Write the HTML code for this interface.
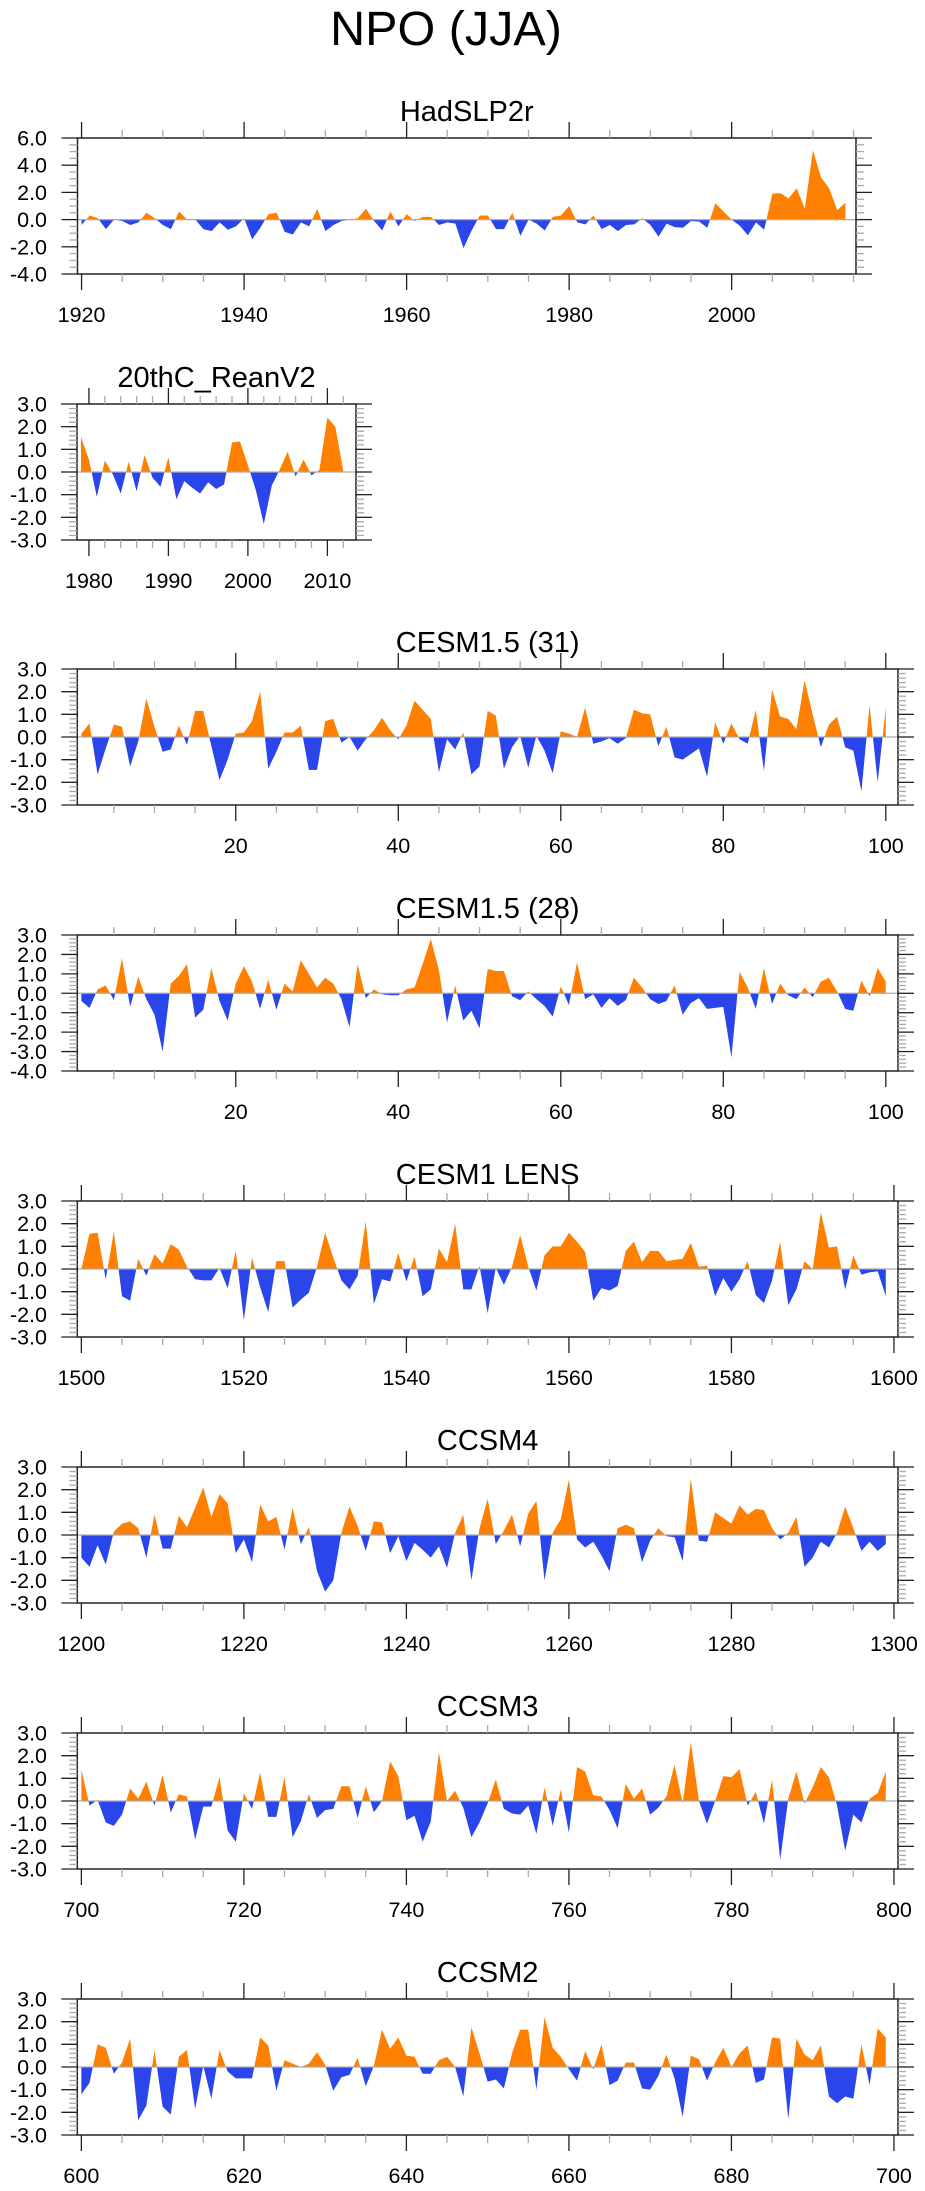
<!DOCTYPE html>
<html><head><meta charset="utf-8">
<style>
html,body{margin:0;padding:0;background:#fff;}
svg{display:block;font-family:"Liberation Sans",Arial,sans-serif;}
</style></head>
<body>
<svg id="chart" width="925" height="2191" viewBox="0 0 925 2191" xmlns="http://www.w3.org/2000/svg">
<text x="446" y="45" font-size="48.5" text-anchor="middle" fill="#000">NPO (JJA)</text>
</svg>
<script>
const hadslpStart = 1920;
const hadslpValues = [-0.4,0.3,0.1,-0.7,0,-0.1,-0.4,-0.2,0.5,0.1,-0.4,-0.7,0.6,0,0,-0.7,-0.85,-0.2,-0.75,-0.5,0.1,-1.45,-0.6,0.4,0.5,-0.9,-1.1,-0.2,-0.5,0.8,-0.85,-0.4,-0.1,0,0.1,0.8,-0.1,-0.8,0.6,-0.5,0.4,-0.1,0.2,0.2,-0.4,-0.2,-0.3,-2.1,-0.8,0.3,0.3,-0.7,-0.7,0.5,-1.2,0,-0.3,-0.8,0.2,0.3,1.0,-0.2,-0.35,0.3,-0.7,-0.4,-0.85,-0.4,-0.35,0.1,-0.4,-1.25,-0.3,-0.55,-0.6,-0.1,-0.15,-0.6,1.2,0.6,0,-0.45,-1.15,-0.2,-0.75,1.9,1.95,1.55,2.3,0.8,5.1,3.1,2.3,0.7,1.25];
const reanStart = 1979;
const reanValues = [1.55,0.55,-1.1,0.5,-0.1,-0.95,0.45,-0.85,0.75,-0.25,-0.65,0.65,-1.2,-0.4,-0.7,-0.95,-0.45,-0.75,-0.55,1.3,1.35,0.3,-0.8,-2.3,-0.6,0.1,0.9,-0.2,0.55,-0.15,0.1,2.4,2.0,0.05];
const cesm31Start = 1;
const cesm31Values = [0.15,0.6,-1.65,-0.5,0.55,0.45,-1.3,-0.2,1.7,0.45,-0.65,-0.55,0.5,-0.35,1.15,1.15,-0.4,-1.9,-1.0,0.15,0.2,0.7,2.0,-1.4,-0.65,0.2,0.2,0.5,-1.45,-1.45,0.7,0.8,-0.25,0.0,-0.6,-0.1,0.3,0.85,0.3,-0.1,0.5,1.6,1.2,0.8,-1.55,-0.1,-0.55,0.2,-1.65,-1.3,1.15,0.95,-1.4,-0.45,0.05,-1.35,0.05,-0.6,-1.6,0.25,0.15,0.0,1.3,-0.3,-0.2,-0.05,-0.3,-0.05,1.2,1.05,1.0,-0.4,0.45,-0.9,-1.0,-0.75,-0.5,-1.75,0.65,-0.3,0.6,-0.1,-0.3,1.2,-1.5,2.1,0.9,0.8,0.35,2.5,1.0,-0.45,0.55,0.9,-0.45,-0.6,-2.4,1.4,-2.0,1.3];
const cesm28Start = 1;
const cesm28Values = [-0.4,-0.75,0.2,0.4,-0.35,1.8,-0.7,0.85,-0.3,-1.1,-3.0,0.5,0.9,1.5,-1.25,-0.85,1.3,-0.4,-1.4,0.5,1.4,0.6,-0.8,0.7,-0.85,0.5,0.1,1.7,1.0,0.3,0.8,0.5,-0.3,-1.75,1.5,-0.25,0.2,-0.05,-0.1,-0.1,0.2,0.3,1.5,2.8,1.2,-1.5,0.4,-1.4,-0.9,-1.8,1.25,1.15,1.15,-0.15,-0.35,0.1,-0.3,-0.65,-1.2,0.35,-0.6,1.6,-0.3,-0.05,-0.75,-0.25,-0.65,-0.35,0.8,0.3,-0.3,-0.55,-0.4,0.4,-1.1,-0.5,-0.25,-0.8,-0.75,-0.7,-3.3,1.1,0.3,-0.8,1.3,-0.55,0.5,-0.1,-0.3,0.3,-0.2,0.6,0.8,0.1,-0.8,-0.9,0.65,-0.15,1.3,0.6];
const lensStart = 1500;
const lensValues = [0.0,1.55,1.6,-0.45,1.65,-1.2,-1.4,0.45,-0.3,0.65,0.25,1.1,0.85,0.1,-0.45,-0.5,-0.5,0.05,-0.85,0.8,-2.25,0.5,-0.8,-1.9,0.35,0.35,-1.7,-1.35,-1.05,0.1,1.6,0.5,-0.5,-0.9,-0.3,2.1,-1.55,-0.45,-0.55,0.7,-0.55,0.55,-1.2,-0.9,0.9,0.3,2.0,-0.9,-0.9,0.15,-1.95,0.05,-0.7,0.1,1.5,0.1,-0.95,0.6,1.0,1.0,1.6,1.2,0.75,-1.4,-0.85,-0.95,-0.75,0.8,1.2,0.3,0.8,0.8,0.35,0.4,0.45,1.15,0.1,0.15,-1.2,-0.4,-1.0,-0.45,0.35,-1.15,-1.5,-0.5,1.2,-1.6,-0.9,0.35,0.0,2.5,0.95,1.0,-0.9,0.6,-0.25,-0.15,-0.1,-1.2];
const ccsm4Start = 1200;
const ccsm4Values = [-1.0,-1.4,-0.45,-1.3,0.15,0.5,0.6,0.3,-1.0,0.9,-0.6,-0.6,0.85,0.35,1.2,2.1,0.8,1.8,1.4,-0.8,-0.2,-1.2,1.35,0.6,0.8,-0.65,1.2,-0.4,0.35,-1.6,-2.5,-2.0,0.1,1.25,0.4,-0.7,0.6,0.55,-0.8,-0.05,-1.15,-0.35,-0.65,-1.0,-0.5,-1.45,0.1,0.9,-2.0,0.3,1.6,-0.4,0.2,0.9,-0.5,0.95,1.5,-2.0,0.1,0.7,2.45,-0.2,-0.55,-0.3,-0.9,-1.6,0.3,0.45,0.3,-1.2,-0.25,0.3,-0.05,-0.1,-1.15,2.5,-0.25,-0.3,1.0,0.75,0.5,1.3,0.9,1.15,1.1,0.3,-0.2,0.1,0.8,-1.4,-1.0,-0.3,-0.55,0.1,1.25,0.3,-0.7,-0.3,-0.7,-0.4];
const ccsm3Start = 700;
const ccsm3Values = [1.4,-0.2,0.05,-0.95,-1.1,-0.6,0.55,0.1,0.85,-0.2,1.15,-0.5,0.3,0.2,-1.7,-0.25,-0.25,1.05,-1.3,-1.8,0.35,-0.35,1.25,-0.7,-0.7,1.05,-1.6,-0.9,0.3,-0.75,-0.4,-0.35,0.65,0.65,-0.75,0.65,-0.5,0.0,1.75,1.1,-0.85,-0.65,-1.8,-0.9,2.15,0.0,0.45,-0.3,-1.6,-0.95,-0.1,0.95,-0.35,-0.55,-0.6,-0.2,-1.45,0.6,-1.1,0.5,-1.4,1.5,1.3,0.25,0.2,-0.4,-1.2,0.75,0.1,0.55,-0.6,-0.3,0.2,1.6,-0.1,2.6,0.0,-1.0,0.0,1.1,1.05,1.4,-0.2,0.4,-1.0,0.95,-2.6,0.1,1.3,-0.1,0.6,1.5,1.05,-0.2,-2.2,-0.6,-0.95,0.1,0.35,1.3];
const ccsm2Start = 600;
const ccsm2Values = [-1.2,-0.7,1.0,0.85,-0.3,0.2,1.25,-2.35,-1.7,0.75,-1.75,-2.1,0.45,0.75,-1.85,0.05,-1.4,0.75,-0.2,-0.5,-0.5,-0.5,1.3,0.95,-1.05,0.3,0.15,0.0,0.15,0.65,0.1,-1.05,-0.45,-0.35,0.4,-0.85,0.05,1.65,0.8,1.3,0.5,0.45,-0.3,-0.3,0.3,0.45,0.0,-1.3,1.75,0.6,-0.65,-0.55,-0.95,0.6,1.65,1.65,-1.0,2.2,0.85,0.45,-0.1,-0.6,0.7,-0.1,1.0,-0.8,-0.6,0.2,0.2,-0.95,-1.0,-0.4,0.55,-0.5,-2.2,0.5,0.35,-0.6,0.2,0.85,0.0,0.6,0.95,-0.7,-0.55,1.3,1.25,-2.3,1.25,0.55,0.3,0.95,-1.3,-1.6,-1.3,-1.4,1.0,-0.8,1.7,1.3];
const panelTitles = ["HadSLP2r","20thC_ReanV2","CESM1.5 (31)","CESM1.5 (28)","CESM1 LENS","CCSM4","CCSM3","CCSM2"];
const hadslpXTicks = [1920,1940,1960,1980,2000];
const reanXTicks = [1980,1990,2000,2010];
const modelXTicks3 = [20,40,60,80,100];
const lensXTicks = [1500,1520,1540,1560,1580,1600];
const ccsm4XTicks = [1200,1220,1240,1260,1280,1300];
const ccsm3XTicks = [700,720,740,760,780,800];
const ccsm2XTicks = [600,620,640,660,680,700];

const NS = "http://www.w3.org/2000/svg";
const svg = document.getElementById('chart');
function mk(tag, attrs, parent){
  const e = document.createElementNS(NS, tag);
  for (const k in attrs) e.setAttribute(k, attrs[k]);
  (parent||svg).appendChild(e);
  return e;
}
const R = 898;
const panels = [
 {slug:'hadslp2r', start:hadslpStart, vals:hadslpValues, x0:77.5, x1:856, top:138, xmin:1919.5, xmax:2015.3, ymin:-4, ymax:6, ymaj:2, ymin_step:0.5, xmaj:hadslpXTicks, xminor:5},
 {slug:'20thc-reanv2', start:reanStart, vals:reanValues, x0:77, x1:356, top:404, xmin:1978.5, xmax:2013.6, ymin:-3, ymax:3, ymaj:1, ymin_step:0.2, xmaj:reanXTicks, xminor:2},
 {slug:'cesm15-31', start:cesm31Start, vals:cesm31Values, x0:77.3, x1:R, top:669, xmin:0.5, xmax:101.5, ymin:-3, ymax:3, ymaj:1, ymin_step:0.2, xmaj:modelXTicks3, xminor:5},
 {slug:'cesm15-28', start:cesm28Start, vals:cesm28Values, x0:77.3, x1:R, top:935, xmin:0.5, xmax:101.5, ymin:-4, ymax:3, ymaj:1, ymin_step:0.2, xmaj:modelXTicks3, xminor:5},
 {slug:'cesm1-lens', start:lensStart, vals:lensValues, x0:77.3, x1:R, top:1201, xmin:1499.5, xmax:1600.5, ymin:-3, ymax:3, ymaj:1, ymin_step:0.2, xmaj:lensXTicks, xminor:5},
 {slug:'ccsm4', start:ccsm4Start, vals:ccsm4Values, x0:77.3, x1:R, top:1467, xmin:1199.5, xmax:1300.5, ymin:-3, ymax:3, ymaj:1, ymin_step:0.2, xmaj:ccsm4XTicks, xminor:5},
 {slug:'ccsm3', start:ccsm3Start, vals:ccsm3Values, x0:77.3, x1:R, top:1733, xmin:699.5, xmax:800.5, ymin:-3, ymax:3, ymaj:1, ymin_step:0.2, xmaj:ccsm3XTicks, xminor:5},
 {slug:'ccsm2', start:ccsm2Start, vals:ccsm2Values, x0:77.3, x1:R, top:1999, xmin:599.5, xmax:700.5, ymin:-3, ymax:3, ymaj:1, ymin_step:0.2, xmaj:ccsm2XTicks, xminor:5}
];
const H = 136;
panels.forEach((p, pi) => {
  const g = mk('g', {});
  
  
  const bot = p.top + H;
  const X = v => p.x0 + (v - p.xmin) / (p.xmax - p.xmin) * (p.x1 - p.x0);
  const Y = v => bot - (v - p.ymin) / (p.ymax - p.ymin) * H;
  const t = mk('text', {x:(p.x0+p.x1)/2, y:p.top-17, 'font-size':29, 'text-anchor':'middle', fill:'#000'}, g);
  t.textContent = panelTitles[pi];
  
  
  const pts = p.vals.map((v,i)=>[X(p.start+i), Y(v)]);
  const y0 = Y(0);
  let d = 'M' + pts[0][0] + ',' + y0;
  pts.forEach(q => d += ' L' + q[0].toFixed(2) + ',' + q[1].toFixed(2));
  d += ' L' + pts[pts.length-1][0] + ',' + y0 + ' Z';
  const cpA = mk('clipPath', {id:'ca'+pi}, g); mk('rect', {x:p.x0, y:p.top, width:p.x1-p.x0, height:y0-p.top}, cpA);
  const cpB = mk('clipPath', {id:'cb'+pi}, g); mk('rect', {x:p.x0, y:y0, width:p.x1-p.x0, height:bot-y0}, cpB);
  const pa = mk('path', {d:d, fill:'#ff8000', 'clip-path':'url(#ca'+pi+')'}, g);
  
  
  const pb = mk('path', {d:d, fill:'#2a45ea', 'clip-path':'url(#cb'+pi+')'}, g);
  
  
  const zl = mk('line', {x1:p.x0, x2:p.x1, y1:y0, y2:y0, stroke:'#aaa', 'stroke-width':1.2}, g);
  
  
  const fr = mk('rect', {x:p.x0, y:p.top, width:p.x1-p.x0, height:H, fill:'none', stroke:'#222', 'stroke-width':1.5}, g);
  
  
  const firstMinor = Math.ceil(p.xmin / p.xminor) * p.xminor;
  for (let v = firstMinor; v <= p.xmax; v += p.xminor) {
    const x = X(v);
    const major = p.xmaj.indexOf(v) >= 0;
    const len = major ? 16 : 8;
    const col = major ? '#222' : '#aaa';
    mk('line', {x1:x, x2:x, y1:bot, y2:bot+len, stroke:col, 'stroke-width':1.3}, g);
    mk('line', {x1:x, x2:x, y1:p.top, y2:p.top-len, stroke:col, 'stroke-width':1.3}, g);
  }
  p.xmaj.forEach(v => {
    const lt = mk('text', {x:X(v), y:bot+48, 'font-size':21.5, 'text-anchor':'middle', fill:'#000'}, g);
    lt.textContent = String(v);
    
    
  });
  const nMinor = Math.round((p.ymax - p.ymin) / p.ymin_step);
  for (let k = 0; k <= nMinor; k++) {
    const v = p.ymin + k * p.ymin_step;
    const y = Y(v);
    const major = Math.abs(v / p.ymaj - Math.round(v / p.ymaj)) < 1e-6;
    const len = major ? 16 : 8;
    const col = major ? '#222' : '#aaa';
    mk('line', {x1:p.x0, x2:p.x0-len, y1:y, y2:y, stroke:col, 'stroke-width':1.3}, g);
    mk('line', {x1:p.x1, x2:p.x1+len, y1:y, y2:y, stroke:col, 'stroke-width':1.3}, g);
    if (major) {
      const yl = mk('text', {x:47, y:y+7.5, 'font-size':21.5, 'text-anchor':'end', fill:'#000'}, g);
      yl.textContent = v.toFixed(1);
      
      
    }
  }
});
</script>
</body></html>
